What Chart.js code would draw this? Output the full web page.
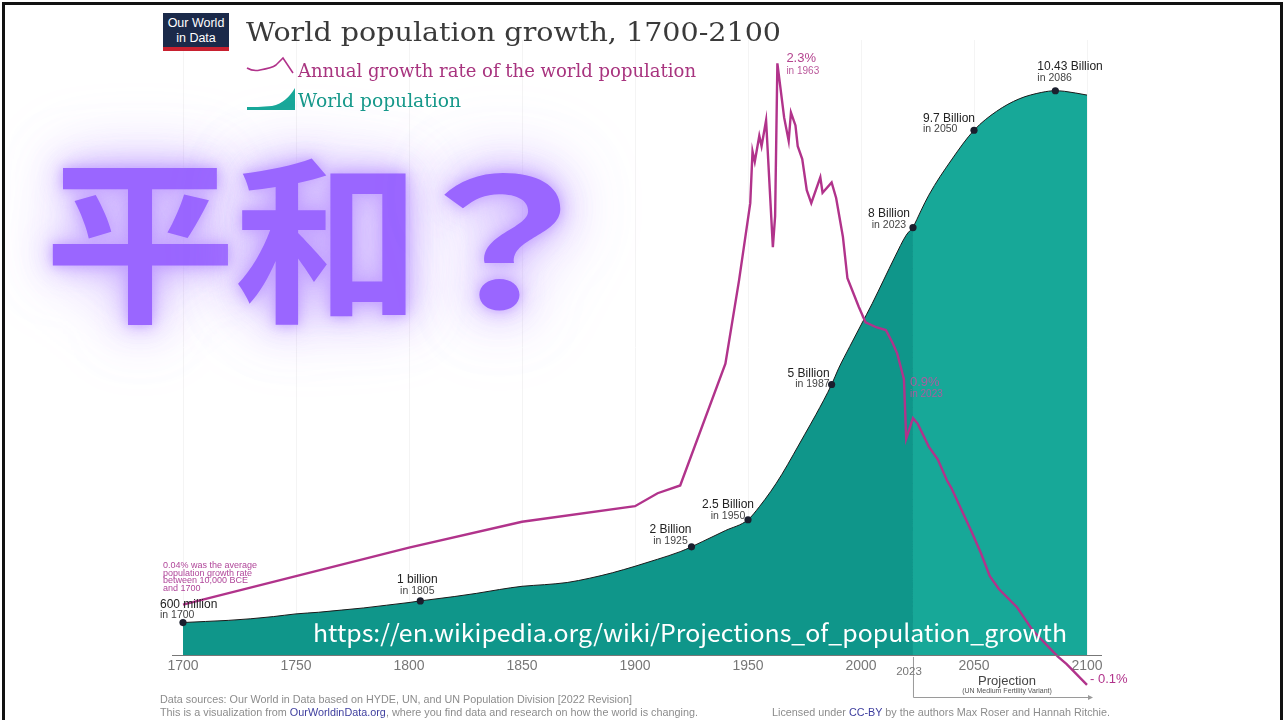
<!DOCTYPE html>
<html><head><meta charset="utf-8">
<script src="https://cdn.jsdelivr.net/npm/chart.js@4.4.1/dist/chart.umd.min.js"></script>
<style>
html,body{margin:0;padding:0;background:#fff;}
#wrap{position:relative;width:1285px;height:720px;overflow:hidden;background:#fff;font-family:"Liberation Sans",Arial,sans-serif;}
canvas{position:absolute;left:0;top:0;}
.abs{position:absolute;white-space:nowrap;}
#frame{position:absolute;left:2px;top:2px;width:1275px;height:740px;border:3px solid #111;pointer-events:none;}
#logo{left:163px;top:13px;width:66px;background:#1b2a4a;border-bottom:4px solid #c8202f;color:#fff;font-size:12.5px;line-height:15px;text-align:center;padding-top:3px;box-sizing:content-box;height:31px;}
#title{left:246px;top:15px;font-family:"DejaVu Serif",serif;font-size:26px;line-height:34px;color:#3a3a3a;}
#leg1{left:298px;top:59px;font-family:"DejaVu Serif",serif;font-size:18.5px;line-height:24px;color:#a8347f;}
#leg2{left:298px;top:89px;font-family:"DejaVu Serif",serif;font-size:18.5px;line-height:24px;color:#16998a;}
#big{left:0;top:144px;width:620px;height:200px;font-family:"Noto Sans CJK JP",sans-serif;font-weight:700;font-size:178px;line-height:176px;color:#9a66ff;}
#big span{position:absolute;top:0;transform-origin:0 50%;
 text-shadow:0 0 10px rgba(195,160,255,0.95),0 0 28px rgba(180,140,255,0.75),0 0 52px rgba(185,150,255,0.6),0 0 75px rgba(195,165,255,0.45);}
#url{left:313px;top:615px;font-family:"Noto Sans CJK JP",sans-serif;font-size:24px;line-height:34px;color:#fff;}
.foot{font-size:10.5px;line-height:13px;color:#8c8c8c;}
.foot b{font-weight:normal;color:#3d3d9e;}
</style></head>
<body><div id="wrap">
<canvas id="c" width="1285" height="720"></canvas>
<svg class="abs" style="left:0;top:0" width="320" height="120">
  <path d="M247,68 C252,71 256,71 260,70 C266,69 272,68 276,65 L283,58 L293,73" fill="none" stroke="#b1338b" stroke-width="1.6"/>
  <path d="M247,110 L295,110 L295,88 C290,96 283,104 272,106 C262,107 253,107 247,107 Z" fill="#17a898"/>
</svg>
<div id="logo" class="abs">Our World<br>in Data</div>
<div id="title" class="abs">World population growth, 1700-2100</div>
<div id="leg1" class="abs">Annual growth rate of the world population</div>
<div id="leg2" class="abs">World population</div>
<div id="big" class="abs"><span style="left:44px;transform:scaleX(1.08)">平</span><span style="left:234px;transform:scaleX(1.05)">和</span><span style="left:388px;transform:scaleX(1.28)">？</span></div>
<div id="url" class="abs">https://en.wikipedia.org/wiki/Projections_of_population_growth</div>
<div id="f1" class="abs foot" style="left:160px;top:693px;">Data sources: Our World in Data based on HYDE, UN, and UN Population Division [2022 Revision]</div>
<div id="f2" class="abs foot" style="left:160px;top:706px;">This is a visualization from <b>OurWorldinData.org</b>, where you find data and research on how the world is changing.</div>
<div id="f3" class="abs foot" style="left:772px;top:706px;">Licensed under <b>CC-BY</b> by the authors Max Roser and Hannah Ritchie.</div>
<div id="frame"></div>
</div>
<script>
// ---- data ----
const popYears = [1700,1710,1720,1730,1740,1750,1760,1770,1780,1790,1800,1805,1820,1830,1840,1850,1860,1870,1880,1890,1900,1910,1920,1925,1930,1940,1950,1955,1960,1965,1970,1975,1980,1987,1990,1995,2000,2005,2010,2015,2020,2023,2030,2040,2050,2060,2070,2080,2086,2090,2100];
const popValues = [0.60,0.62,0.64,0.67,0.71,0.76,0.79,0.83,0.87,0.92,0.97,1.00,1.08,1.14,1.21,1.27,1.30,1.34,1.42,1.52,1.64,1.77,1.91,2.00,2.10,2.30,2.50,2.74,3.02,3.34,3.70,4.07,4.44,5.00,5.29,5.70,6.10,6.50,6.93,7.36,7.76,7.90,8.50,9.15,9.70,10.05,10.28,10.40,10.43,10.42,10.35];
const growthYears = [1700,1750,1800,1850,1900,1910,1920,1940,1946,1951,1952,1953,1955,1956,1958,1961,1962,1963,1966,1968,1969,1971,1972,1974,1976,1978,1982,1983,1987,1989,1992,1994,1999,2002,2007,2011,2014,2016,2019,2020,2023,2025,2030,2034,2038,2040,2049,2053,2057,2061,2069,2076,2087,2091,2100];
const growthRates = [0.21,0.32,0.43,0.53,0.59,0.64,0.67,1.14,1.46,1.76,1.96,1.92,2.02,1.98,2.08,1.59,1.71,2.30,2.09,2.00,2.11,2.06,1.98,1.93,1.81,1.76,1.86,1.80,1.84,1.78,1.63,1.47,1.36,1.30,1.28,1.27,1.22,1.18,1.08,0.85,0.93,0.91,0.82,0.77,0.69,0.66,0.49,0.41,0.32,0.27,0.20,0.11,0.01,-0.02,-0.10];
const xTicks = [1700,1750,1800,1850,1900,1950,2000,2050,2100];
const projectionStart = 2023;
const markerYears = [1700,1805,1925,1950,1987,2023,2050,2086];
const markerValues = [0.60,1.00,2.00,2.50,5.00,7.90,9.70,10.43];
const markerTitles = ['600 million','1 billion','2 Billion','2.5 Billion','5 Billion','8 Billion','9.7 Billion','10.43 Billion'];
const markerSubs = ['in 1700','in 1805','in 1925','in 1950','in 1987','in 2023','in 2050','in 2086'];
const noteLines = ['0.04% was the average','population growth rate','between 10,000 BCE','and 1700'];

// ---- label styling (not data) ----
const mAlign = ['left','center','center','center','right','center','left','left'];
const mDx = [-23,-3,-21,-20,-2,-24,-51,-18];
const mDy = [-18,-21,-17,-15,-11,-14,-12,-24];

function fitX(id, w){
  const el = document.getElementById(id);
  const r = el.getBoundingClientRect().width;
  el.style.transformOrigin = '0 50%';
  el.style.transform = 'scaleX(' + (w / r) + ')';
}
fitX('title', 535); fitX('leg1', 398); fitX('leg2', 163); fitX('url', 754);
fitX('f1', 472); fitX('f2', 538); fitX('f3', 338);

const pts = (xs, ys) => xs.map((v, i) => ({x: v, y: ys[i]}));
const allPop = pts(popYears, popValues);
const hist = allPop.filter(p => p.x <= projectionStart);
const proj = allPop.filter(p => p.x >= projectionStart);

const annot = {
  id: 'annot',
  afterDatasetsDraw(chart){
    const {ctx, chartArea: ca} = chart;
    const x = chart.scales.x, y = chart.scales.y, g = chart.scales.g;
    ctx.save();
    ctx.strokeStyle = '#777'; ctx.lineWidth = 1;
    ctx.beginPath(); ctx.moveTo(172, Math.round(ca.bottom) + 0.5); ctx.lineTo(1102, Math.round(ca.bottom) + 0.5); ctx.stroke();
    ctx.textBaseline = 'middle';
    markerYears.forEach((yr, i) => {
      const px = x.getPixelForValue(yr), py = y.getPixelForValue(markerValues[i]);
      ctx.textAlign = mAlign[i];
      ctx.fillStyle = '#222'; ctx.font = '12px "Liberation Sans"';
      ctx.fillText(markerTitles[i], px + mDx[i], py + mDy[i]);
      ctx.fillStyle = '#444'; ctx.font = '10.5px "Liberation Sans"';
      ctx.fillText(markerSubs[i], px + mDx[i], py + mDy[i] + 11);
    });
    let pk = 0; growthRates.forEach((v, i) => { if (v > growthRates[pk]) pk = i; });
    const ppx = x.getPixelForValue(growthYears[pk]), ppy = g.getPixelForValue(growthRates[pk]);
    ctx.textAlign = 'left';
    ctx.fillStyle = '#b4448f'; ctx.font = '13px "Liberation Sans"';
    ctx.fillText(growthRates[pk].toFixed(1) + '%', ppx + 9, ppy - 5);
    ctx.font = '10px "Liberation Sans"'; ctx.fillStyle = '#bb5a9c';
    ctx.fillText('in ' + growthYears[pk], ppx + 9, ppy + 8);
    const i23 = growthYears.indexOf(projectionStart);
    const qx = x.getPixelForValue(projectionStart), qy = g.getPixelForValue(growthRates[i23]);
    ctx.fillStyle = 'rgba(196,80,160,0.85)'; ctx.font = '13px "Liberation Sans"';
    ctx.fillText('0.9%', qx - 3, qy - 36);
    ctx.font = '10px "Liberation Sans"';
    ctx.fillText('in ' + projectionStart, qx - 3, qy - 24);
    const last = growthYears.length - 1;
    const ex = x.getPixelForValue(growthYears[last]), ey = g.getPixelForValue(growthRates[last]);
    ctx.fillStyle = '#b1338b'; ctx.font = '13px "Liberation Sans"';
    ctx.fillText('- 0.1%', ex + 3, ey - 5);
    const sx = x.getPixelForValue(growthYears[0]), sy = g.getPixelForValue(growthRates[0]);
    ctx.fillStyle = '#b0479a'; ctx.font = '9px "Liberation Sans"';
    noteLines.forEach((t, i) => ctx.fillText(t, sx - 20, sy - 39 + i * 7.7));
    const x2100 = x.getPixelForValue(2100);
    ctx.strokeStyle = '#9a9a9a'; ctx.lineWidth = 1;
    ctx.beginPath(); ctx.moveTo(qx + 0.5, ca.bottom + 2); ctx.lineTo(qx + 0.5, 697.5); ctx.lineTo(x2100 + 3, 697.5); ctx.stroke();
    ctx.fillStyle = '#9a9a9a';
    ctx.beginPath(); ctx.moveTo(x2100 + 6, 697.5); ctx.lineTo(x2100 + 1, 695); ctx.lineTo(x2100 + 1, 700); ctx.closePath(); ctx.fill();
    ctx.textAlign = 'center';
    ctx.fillStyle = '#777'; ctx.font = '11.5px "Liberation Sans"';
    ctx.fillText(String(projectionStart), qx - 4, 672);
    const mid = (qx + x2100) / 2 + 7;
    ctx.fillStyle = '#444'; ctx.font = '13px "Liberation Sans"';
    ctx.fillText('Projection', mid, 681);
    ctx.fillStyle = '#555'; ctx.font = '7px "Liberation Sans"';
    ctx.fillText('(UN Medium Fertility Variant)', mid, 691);
    ctx.restore();
  }
};

new Chart(document.getElementById('c'), {
  type: 'line',
  data: { datasets: [
    { label: 'markers', data: pts(markerYears, markerValues), yAxisID: 'y', showLine: false, clip: false,
      pointRadius: 3.6, pointBackgroundColor: '#1b1f2e', pointBorderWidth: 0, order: 0 },
    { label: 'Annual growth rate of the world population', data: pts(growthYears, growthRates), yAxisID: 'g',
      borderColor: '#b1338b', borderWidth: 2.4, pointRadius: 0, tension: 0, fill: false, clip: false, order: 1 },
    { label: 'World population (projection)', data: proj, yAxisID: 'y', fill: 'origin',
      backgroundColor: '#17a898', borderColor: '#1a1a1a', borderWidth: 1, pointRadius: 0,
      tension: 0.4, cubicInterpolationMode: 'monotone', order: 2 },
    { label: 'World population', data: hist, yAxisID: 'y', fill: 'origin',
      backgroundColor: '#0f968a', borderColor: '#1a1a1a', borderWidth: 1, pointRadius: 0,
      tension: 0.4, cubicInterpolationMode: 'monotone', order: 3 }
  ]},
  options: {
    responsive: false, animation: false, devicePixelRatio: 1,
    layout: { padding: { left: 183, right: 198, top: 40, bottom: 0 } },
    plugins: { legend: { display: false }, tooltip: { enabled: false } },
    scales: {
      x: { type: 'linear', min: 1700, max: 2100,
        afterFit(s){ s.height = 65; },
        afterBuildTicks(s){ s.ticks = xTicks.map(v => ({ value: v })); },
        ticks: { callback: v => String(v), color: '#777', font: { family: 'Liberation Sans', size: 14 }, padding: 3, maxRotation: 0, autoSkip: false },
        grid: { color: '#f4f4f4', drawTicks: false }, border: { display: false } },
      y: { min: 0, max: 11.368, display: false },
      g: { min: 0.0154, max: 2.3899, display: false, position: 'right' }
    }
  },
  plugins: [annot]
});
</script></body></html>
